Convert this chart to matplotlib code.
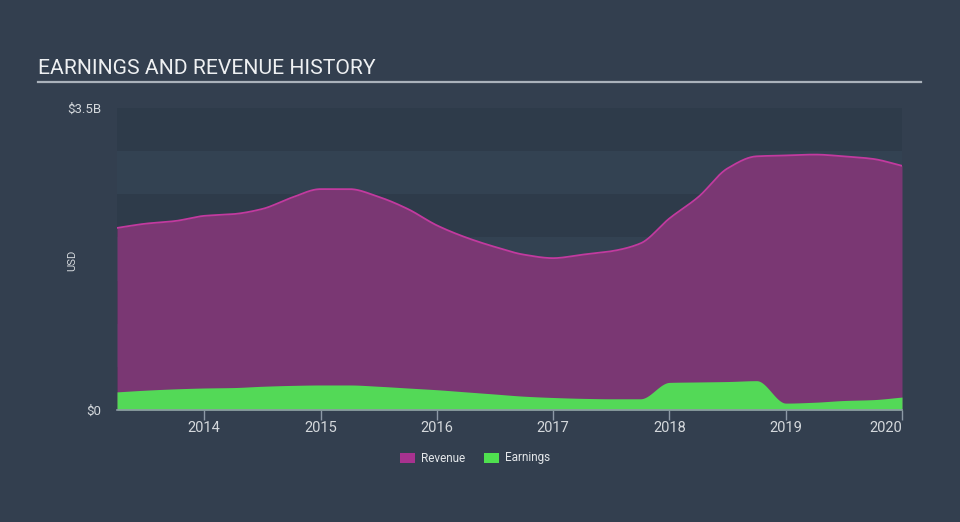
import numpy as np
import matplotlib
matplotlib.use("Agg")
import matplotlib.pyplot as plt
from matplotlib.patches import Rectangle

# ---- data (USD billions), quarterly ----
dates = [2013.25, 2013.5, 2013.75, 2014.0, 2014.25, 2014.5, 2014.75, 2015.0,
         2015.25, 2015.5, 2015.75, 2016.0, 2016.25, 2016.5, 2016.75, 2017.0,
         2017.25, 2017.5, 2017.75, 2018.0, 2018.25, 2018.5, 2018.75, 2019.0,
         2019.25, 2019.5, 2019.75, 2020.0]
revenue = [2.11, 2.16, 2.19, 2.25, 2.27, 2.33, 2.46, 2.56,
           2.56, 2.47, 2.33, 2.14, 2.00, 1.89, 1.80, 1.76,
           1.80, 1.84, 1.93, 2.22, 2.47, 2.80, 2.94, 2.95,
           2.96, 2.94, 2.91, 2.83]
earnings = [0.21, 0.23, 0.245, 0.255, 0.26, 0.275, 0.285, 0.29,
            0.29, 0.275, 0.255, 0.235, 0.21, 0.185, 0.16, 0.145,
            0.135, 0.13, 0.13, 0.32, 0.325, 0.33, 0.34, 0.08,
            0.09, 0.11, 0.12, 0.15]
year_ticks = [2014, 2015, 2016, 2017, 2018, 2019, 2020]
y_ticks = [0, 3.5]
y_labels = ["$0", "$3.5B"]


def pchip(x, y, xn):
    x = np.asarray(x, float); y = np.asarray(y, float)
    h = np.diff(x); d = np.diff(y) / h
    n = len(x); m = np.zeros(n)
    for i in range(1, n - 1):
        if d[i - 1] * d[i] > 0:
            w1 = 2 * h[i] + h[i - 1]; w2 = h[i] + 2 * h[i - 1]
            m[i] = (w1 + w2) / (w1 / d[i - 1] + w2 / d[i])
    m[0] = d[0]; m[-1] = d[-1]
    idx = np.clip(np.searchsorted(x, xn) - 1, 0, n - 2)
    t = (xn - x[idx]) / h[idx]
    h00 = 2 * t**3 - 3 * t**2 + 1; h10 = t**3 - 2 * t**2 + t
    h01 = -2 * t**3 + 3 * t**2; h11 = t**3 - t**2
    return (h00 * y[idx] + h10 * h[idx] * m[idx] + h01 * y[idx + 1]
            + h11 * h[idx] * m[idx + 1])


bg = "#333f4f"
fig = plt.figure(figsize=(9.6, 5.22), dpi=100, facecolor=bg)
ax = fig.add_axes([117 / 960, 1 - 410 / 522, (902 - 117) / 960, (410 - 108) / 522])
ax.set_facecolor("#334150")

xmin, xmax = dates[0], dates[-1]
ax.set_xlim(xmin, xmax)
ax.set_ylim(0, 3.5)

# alternating bands
for i, lo in enumerate(np.arange(0, 3.5, 0.5)):
    col = "#2e3b4a" if i % 2 == 0 else "#334252"
    ax.axhspan(lo, lo + 0.5, color=col, lw=0, zorder=0)

xs = np.linspace(xmin, xmax, 800)
rev_s = pchip(dates, revenue, xs)
earn_s = pchip(dates, earnings, xs)

ax.fill_between(xs, 0, rev_s, color="#7a3773", lw=0, zorder=2)
ax.plot(xs, rev_s, color="#c23a9f", lw=1.3, zorder=3)
ax.fill_between(xs, 0, earn_s, color="#53d957", lw=0, zorder=4)

for s in ["top", "right", "left"]:
    ax.spines[s].set_visible(False)
ax.spines["bottom"].set_color("#8d99a6")
ax.spines["bottom"].set_linewidth(1.2)
ax.spines["bottom"].set_zorder(5)

ax.set_xticks(year_ticks)
ax.set_xticklabels([str(y) for y in year_ticks], fontfamily="Roboto",
                   fontsize=10.5, color="#d4d8dc")
ax.get_xticklabels()[-1].set_horizontalalignment("right")
ax.tick_params(axis="x", length=7, width=1, color="#8d99a6", pad=1)
ax.set_yticks(y_ticks)
ax.set_yticklabels(y_labels, fontfamily="Roboto", fontsize=9.5, color="#d4d8dc")
ax.tick_params(axis="y", length=0, pad=11.5)

fig.text(72 / 960, 1 - 260 / 522, "USD", rotation=90, ha="center", va="center",
         fontfamily="Roboto", fontsize=8, color="#d4d8dc")

fig.text(38 / 960, 1 - 68 / 522, "EARNINGS AND REVENUE HISTORY", ha="left",
         va="center", fontfamily="Roboto", fontsize=15.2, color="#eef0f2")
fig.add_artist(plt.Line2D([38 / 960, 921 / 960], [1 - 82 / 522, 1 - 82 / 522],
                          color="#aab2bb", lw=1.6))

# legend
for x0, col, label in [(400, "#a8328f", "Revenue"), (484, "#4fe04f", "Earnings")]:
    fig.add_artist(Rectangle((x0 / 960, 1 - 463 / 522), 15 / 960, 10 / 522,
                             color=col, lw=0, transform=fig.transFigure))
    fig.text((x0 + 21) / 960, 1 - 458 / 522, label, ha="left", va="center",
             fontfamily="Roboto", fontsize=8.5, color="#e4e7ea")

fig.savefig("out.png", dpi=100, facecolor=bg)
